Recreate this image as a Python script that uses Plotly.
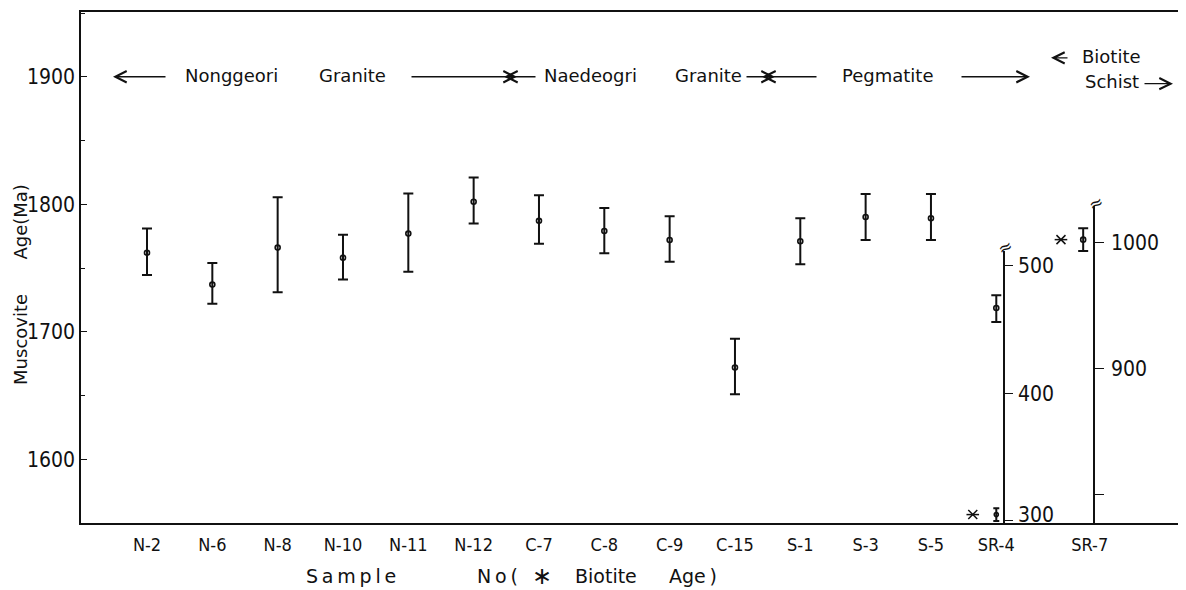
import plotly.graph_objects as go

# ---------------- data ----------------
samples = ["N-2", "N-6", "N-8", "N-10", "N-11", "N-12", "C-7", "C-8", "C-9",
           "C-15", "S-1", "S-3", "S-5", "SR-4", "SR-7"]
musc_samples = samples[:13]
musc_age = [1762, 1737, 1766, 1758, 1777, 1802, 1787, 1779, 1772, 1672, 1771, 1790, 1789]
musc_err_up = [19, 17, 39.5, 18, 31.5, 19, 20, 18, 18.5, 22.5, 18, 18, 19]
musc_err_dn = [17.5, 15, 35, 17, 30, 17, 18, 17.5, 17, 21, 18, 18, 17]

sr4_musc_age = [467]
sr4_musc_up = [10]
sr4_musc_dn = [11]
sr4_bio_age = [305]
sr4_bio_up = [5]
sr4_bio_dn = [5]

sr7_bio_age = [1002]
sr7_bio_up = [9]
sr7_bio_dn = [9]

main_ticks = [1600, 1700, 1800, 1900]
sr4_ticks = [300, 400, 500]
sr4_ticktext = ["", "400", "500"]
sr7_ticks = [800, 900, 1000]
sr7_ticktext = ["", "900", "1000"]

groups = ["Nonggeori", "Granite", "Naedeogri", "Granite", "Pegmatite"]

# ---------------- layout helpers ----------------
OFF = 8                      # page body margin
WIN_W, WIN_H = 1186, 590
W, H = WIN_W - OFF, WIN_H - OFF
ML, MR, MT, MB = 81 - OFF, 2, 10 - OFF, 67
PW, PH = W - ML - MR, H - MT - MB


def fx(px):
    return (px - OFF - ML) / PW


def fy(py):
    return (H + OFF - MB - py) / PH


pos = {s: i for i, s in enumerate(samples)}
pos["SR-7"] = 14 + 0.43          # SR-7 sits slightly further right
tickpos = [pos[s] for s in samples]

FONT = "DejaVu Sans"
NUMFONT = "DejaVu Sans Condensed, Liberation Sans Narrow, DejaVu Sans"
BLACK = "#111111"

err_style = dict(type="data", symmetric=False, color=BLACK, thickness=2, width=5)
mk = dict(symbol="circle-open", size=5, color=BLACK, line=dict(width=1.6, color=BLACK))

fig = go.Figure()

fig.add_trace(go.Scatter(
    x=[pos[s] for s in musc_samples], y=musc_age, mode="markers",
    marker=mk, cliponaxis=False,
    error_y=dict(err_style, array=musc_err_up, arrayminus=musc_err_dn),
    xaxis="x", yaxis="y", showlegend=False))

# SR-4 (own axis)
fig.add_trace(go.Scatter(
    x=[pos["SR-4"]], y=sr4_musc_age, mode="markers", marker=mk, cliponaxis=False,
    error_y=dict(err_style, array=sr4_musc_up, arrayminus=sr4_musc_dn),
    xaxis="x", yaxis="y2", showlegend=False))
fig.add_trace(go.Scatter(
    x=[pos["SR-4"]], y=sr4_bio_age, mode="markers",
    marker=dict(mk, size=4), cliponaxis=False,
    error_y=dict(err_style, array=sr4_bio_up, arrayminus=sr4_bio_dn, width=3),
    xaxis="x", yaxis="y2", showlegend=False))

# SR-7 (own axis)
fig.add_trace(go.Scatter(
    x=[pos["SR-7"] - 0.1], y=sr7_bio_age, mode="markers", marker=mk, cliponaxis=False,
    error_y=dict(err_style, array=sr7_bio_up, arrayminus=sr7_bio_dn),
    xaxis="x", yaxis="y3", showlegend=False))

# biotite asterisks
for sym in ["x-thin-open", "line-ew-open"]:
    fig.add_trace(go.Scatter(
        x=[pos["SR-4"] - 0.36], y=sr4_bio_age, mode="markers", cliponaxis=False,
        marker=dict(symbol=sym, size=9, line=dict(width=1.5, color=BLACK), color=BLACK),
        xaxis="x", yaxis="y2", showlegend=False))
    fig.add_trace(go.Scatter(
        x=[pos["SR-7"] - 0.44], y=sr7_bio_age, mode="markers", cliponaxis=False,
        marker=dict(symbol=sym, size=9, line=dict(width=1.5, color=BLACK), color=BLACK),
        xaxis="x", yaxis="y3", showlegend=False))

x_left = (81 - 147) / 65.33
x_right = (81 + PW - 147) / 65.33

fig.update_layout(
    width=W, height=H,
    margin=dict(l=ML, r=MR, t=MT, b=MB),
    paper_bgcolor="white", plot_bgcolor="rgba(0,0,0,0)",
    font=dict(family=FONT, size=18, color=BLACK),
    xaxis=dict(range=[x_left, x_right], tickvals=tickpos, ticktext=samples,
               showgrid=False, zeroline=False, showline=True, linecolor=BLACK,
               linewidth=1.8, mirror=True, ticks="", ticklabelstandoff=4,
               tickfont=dict(family=NUMFONT, size=18, color=BLACK)),
    yaxis=dict(range=[1550, 1950.8], tickvals=main_ticks, showgrid=False,
               zeroline=False, showline=True, linecolor=BLACK, linewidth=1.6,
               ticks="inside", ticklen=6, tickwidth=1.4, tickcolor=BLACK,
               minor=dict(dtick=50, ticks="inside", ticklen=4, tickwidth=1, tickcolor=BLACK),
               ticklabelstandoff=0,
               tickfont=dict(family=NUMFONT, size=21, color=BLACK)),
    yaxis2=dict(domain=[0, fy(250)], range=[298.4, 511.7], anchor="free",
                position=fx(1004), side="right", tickvals=sr4_ticks, ticktext=sr4_ticktext,
                showgrid=False, zeroline=False, showline=True, linecolor=BLACK,
                linewidth=1.6, ticks="outside", ticklen=8, tickwidth=1.4, tickcolor=BLACK,
                ticklabelstandoff=1,
                tickfont=dict(family=NUMFONT, size=21, color=BLACK)),
    yaxis3=dict(domain=[0, fy(205)], range=[777.1, 1028.5], anchor="free",
                position=fx(1094), side="right", tickvals=sr7_ticks, ticktext=sr7_ticktext,
                showgrid=False, zeroline=False, showline=True, linecolor=BLACK,
                linewidth=1.6, ticks="outside", ticklen=9, tickwidth=1.4, tickcolor=BLACK,
                ticklabelstandoff=3,
                tickfont=dict(family=NUMFONT, size=21, color=BLACK)),
)

ann = []


def text(t, px, py, size=18, family=FONT, angle=0, xanchor="center"):
    ann.append(dict(text=t, x=fx(px), y=fy(py), xref="paper", yref="paper",
                    showarrow=False, xanchor=xanchor, yanchor="middle",
                    textangle=angle, font=dict(family=family, size=size, color=BLACK)))


def arrow(tip, tail, py):
    ann.append(dict(text="", x=fx(tip), y=fy(py), xref="paper", yref="paper",
                    ax=tail - tip, ay=0, axref="pixel", ayref="pixel",
                    showarrow=True, arrowhead=5, arrowsize=1.7, arrowwidth=1.3,
                    arrowcolor=BLACK, standoff=0, startstandoff=0))


# group labels along the top
text(groups[0], 231, 74)
text(groups[1], 352, 74)
text(groups[2], 590, 74)
text(groups[3], 708, 74)
text(groups[4], 887, 74)
arrow(113, 167, 75)
arrow(517, 410, 75)
arrow(504, 537, 75)
arrow(775, 745, 75)
arrow(762, 818, 75)
arrow(1030, 960, 75)
text("Biotite", 1111, 55)
arrow(1051, 1069, 56)
text("Schist", 1112, 80)
arrow(1173, 1143, 82)

# lowest SR-4 axis label sits just above the baseline
text("300", 1016, 515, size=21, family=NUMFONT, xanchor="left")

# broken-axis marks
text("≈", 1005, 246, size=17, angle=-25)
text("≈", 1096, 202, size=17, angle=-25)

# y-axis title
text("Muscovite\u00a0\u00a0\u00a0\u00a0\u00a0\u00a0Age(Ma)", 21, 284, size=18, angle=-90)

# x-axis title (letter-spaced)
text("S\u2009a\u2009m\u2009p\u2009l\u2009e", 351, 576, size=19)
text("N\u2009o\u2009(", 497, 576, size=19)
text("∗", 542, 576, size=24)
text("Biotite", 606, 576, size=19)
text("Age\u2009)", 693, 576, size=19)

fig.update_layout(annotations=ann)

fig.write_html("out.html")
